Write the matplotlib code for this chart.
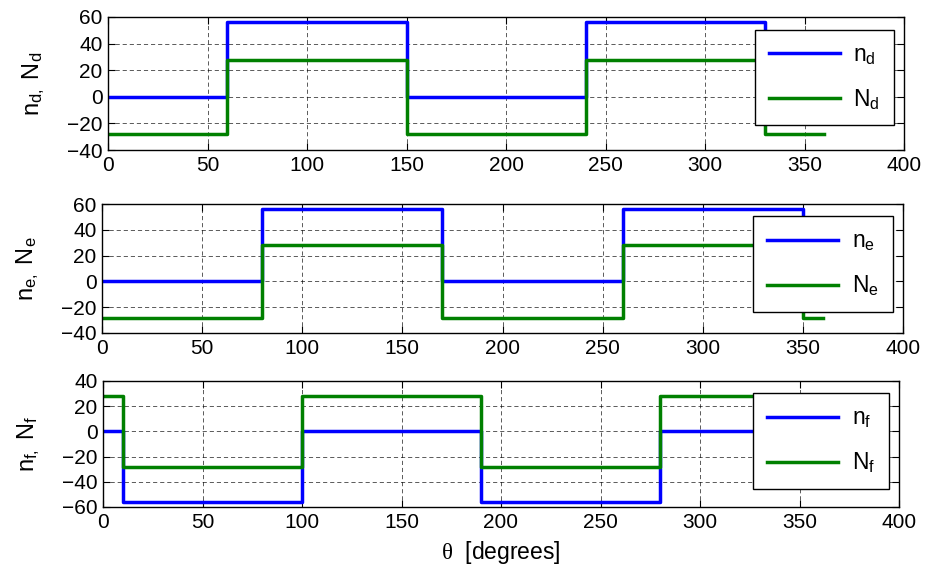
import matplotlib
matplotlib.use('Agg')
import matplotlib.pyplot as plt

plt.rcParams['font.family'] = ['Liberation Sans', 'DejaVu Sans']
plt.rcParams['mathtext.fontset'] = 'custom'
plt.rcParams['mathtext.rm'] = 'Liberation Sans'
plt.rcParams['mathtext.it'] = 'Liberation Serif'

# switching angles (degrees) and the level held from each angle onwards
theta_d = [0, 60, 150, 240, 330, 360]
n_d = [0, 56, 0, 56, 0, 0]
N_d = [-28, 28, -28, 28, -28, -28]

theta_e = [0, 80, 170, 260, 350, 360]
n_e = [0, 56, 0, 56, 0, 0]
N_e = [-28, 28, -28, 28, -28, -28]

theta_f = [0, 10, 100, 190, 280, 360]
n_f = [0, -56, 0, -56, 0, 0]
N_f = [28, -28, 28, -28, 28, 28]

xticks = [0, 50, 100, 150, 200, 250, 300, 350, 400]

panels = [
    (theta_d, n_d, N_d, 'd', [-40, 60]),
    (theta_e, n_e, N_e, 'e', [-40, 60]),
    (theta_f, n_f, N_f, 'f', [-60, 40]),
]

W, H = 932, 575
# axes boxes in pixels: left, top, right, bottom
boxes = [(108, 17, 904, 150), (102, 204, 903, 333), (103, 381, 899, 507)]

fig = plt.figure(figsize=(W / 100, H / 100), dpi=100)

for (th, n, N, sub, ylim), (l, t, r, b) in zip(panels, boxes):
    ax = fig.add_axes([l / W, 1 - b / H, (r - l) / W, (b - t) / H])
    ax.plot(th, n, drawstyle='steps-post', color='#0000ff', lw=2.5,
            label=r'n$_\mathrm{%s}$' % sub)
    ax.plot(th, N, drawstyle='steps-post', color='#008000', lw=2.5,
            label=r'N$_\mathrm{%s}$' % sub)
    ax.set_xlim(0, 400)
    ax.set_ylim(*ylim)
    ax.set_xticks(xticks)
    ax.set_yticks(range(ylim[0], ylim[1] + 1, 20))
    ax.grid(True, color='k', lw=0.6, linestyle=(0, (5, 3.5)), alpha=0.75)
    ax.tick_params(direction='in', top=True, right=True, length=5,
                   labelsize=15, pad=4)
    for s in ax.spines.values():
        s.set_linewidth(1.0)
    ax.set_ylabel(r'n$_\mathrm{%s,}$ N$_\mathrm{%s}$' % (sub, sub),
                  fontsize=17, labelpad=14)
    leg = ax.legend(loc='upper right', bbox_to_anchor=(0.987, 0.905),
                    fontsize=16.5, handlelength=3.1, labelspacing=0.9,
                    borderpad=0.6, handletextpad=0.6, borderaxespad=0,
                    fancybox=False, framealpha=1, edgecolor='k')
    leg.get_frame().set_linewidth(1.0)

ax.set_xlabel(r'$\theta$  [degrees]', fontsize=16.5, labelpad=5)

fig.savefig('out.png', dpi=100)
